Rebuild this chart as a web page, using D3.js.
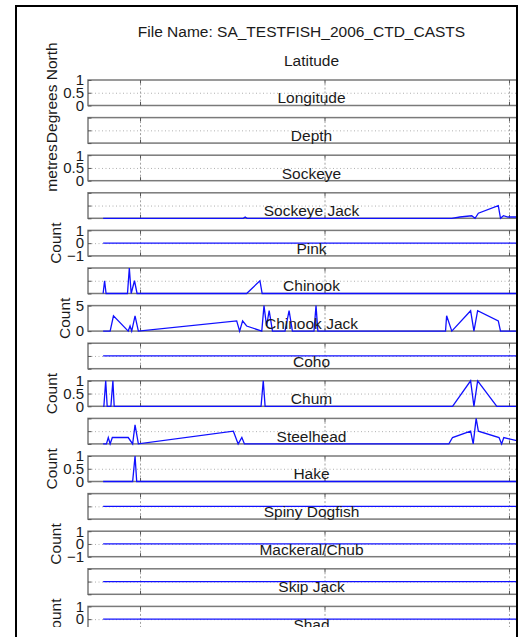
<!DOCTYPE html>
<html>
<head>
<meta charset="utf-8">
<script src="https://cdn.jsdelivr.net/npm/d3@7"></script>
<style>
	body { margin: 0; background: #fff; }
	text { font-family: 'Liberation Sans', Arial, Helvetica, sans-serif; fill: #1a1a1a; }
</style>
</head>
<body>
<div id="chart"></div>
<script>

const fileName = "File Name: SA_TESTFISH_2006_CTD_CASTS";

const panelTitles = ["Latitude", "Longitude", "Depth", "Sockeye", "Sockeye Jack", "Pink", "Chinook",
	"Chinook Jack", "Coho", "Chum", "Steelhead", "Hake", "Spiny Dogfish", "Mackeral/Chub", "Skip Jack", "Shad"];

const yLabels = ["Degrees North", "", "metres", "", "Count", "", "Count", "", "Count", "", "Count", "",
	"Count", "", "Count", ""];

const yDomains = [[0, 1], [0, 1], [0, 1], [0, 20], [-1, 1], [0, 2], [0, 5], [-1, 1], [0, 1], [0, 4],
	[0, 1], [-1, 1], [-1, 1], [-1, 1], [-1, 1], [-1, 1]];

const yTicks = [[0, 0.5, 1], [0, 0.5, 1], [0, 0.5, 1], [0, 10, 20], [-1, 0, 1], [0, 1, 2], [0, 5],
	[-1, 0, 1], [0, 0.5, 1], [0, 2, 4], [0, 0.5, 1], [-1, 0, 1], [-1, 0, 1], [-1, 0, 1], [-1, 0, 1], [-1, 0, 1]];

// only every other panel shows its y tick labels
const showYTickLabels = [true, false, true, false, true, false, true, false, true, false, true, false,
	true, false, true, false];

// x is day of year 2006
const xDomain = [135.9, 257.05];
const xTicks = [150, 200, 250];

// [day, value] per cast
const latitude = [];
const longitude = [];
const depth = [];
const sockeye = [[140, 0], [178.0, 0], [178.5, 1], [179.0, 0], [234.5, 0], [236.7, 1], [239.9, 2], [240.8, 0],
	[241.7, 4], [247.1, 10], [247.7, 0], [248.5, 2], [249.7, 1], [257.05, 1]];
const sockeyeJack = [[140, 0], [257.05, 0]];
const pink = [[140, 0], [140.4, 1], [140.8, 0], [146.6, 0], [147.1, 2], [147.6, 0], [148.5, 1], [149.2, 0],
	[178.9, 0], [182.5, 1], [183.1, 0], [257.05, 0]];
const chinook = [[140, 0], [141.9, 0], [142.8, 3], [146.8, 0], [147.3, 1], [147.75, 0], [148.65, 3], [149.55, 0],
	[176.2, 2], [177.0, 0], [177.8, 2], [178.9, 1], [183.0, 0], [183.6, 5], [184.3, 1], [185.0, 4], [185.9, 0],
	[189.3, 0], [190.4, 4], [191.3, 0], [197.15, 0], [197.7, 5], [198.2, 0], [232.8, 0], [233.1, 3], [234.5, 0],
	[239.6, 4], [240.5, 0], [241.5, 4], [247.1, 2], [247.7, 0], [257.05, 0]];
const chinookJack = [[140, 0], [257.05, 0]];
const coho = [[140, 0], [140.2, 0], [140.7, 1], [141.1, 0], [142.1, 0], [142.65, 1], [143.0, 0], [182.8, 0],
	[183.4, 1], [183.9, 0], [234.7, 0], [239.6, 1], [240.5, 0], [241.5, 1], [246.7, 0], [257.05, 0]];
const chum = [[140, 0], [140.9, 0], [141.4, 1], [141.9, 0], [142.5, 1], [146.8, 1], [148.0, 0], [148.65, 3],
	[149.55, 0], [175.3, 2], [176.6, 0], [177.6, 1], [178.3, 0], [233.7, 0], [234.7, 1], [239.6, 2], [240.3, 0],
	[241.1, 4], [241.7, 2], [247.3, 1], [248.0, 0], [248.6, 1], [252.1, 0.5], [257.05, 0]];
const steelhead = [[140, 0], [148.0, 0], [148.65, 1], [149.1, 0], [257.05, 0]];
const hake = [[140, 0], [257.05, 0]];
const spinyDogfish = [[140, 0], [257.05, 0]];
const mackeralChub = [[140, 0], [257.05, 0]];
const skipJack = [[140, 0], [257.05, 0]];
const shad = [[140, 0], [257.05, 0]];

const series = [latitude, longitude, depth, sockeye, sockeyeJack, pink, chinook, chinookJack, coho, chum,
	steelhead, hake, spinyDogfish, mackeralChub, skipJack, shad];

var width = 525,
	height = 637,
	plotLeft = 88,
	plotRight = 535;

var svg = d3
	.select("#chart")
	.append("svg")
	.attr("width", width)
	.attr("height", height);

// the figure is cut off at the bottom
svg.append("clipPath")
	.attr("id", "fig-clip")
	.append("rect")
	.attr("x", 17)
	.attr("y", 7)
	.attr("width", 500)
	.attr("height", 620);

const fig = svg.append("g").attr("clip-path", "url(#fig-clip)");

const x = d3.scaleLinear().domain(xDomain).range([plotLeft, plotRight]);

const panelY = d3.scaleBand()
	.domain(panelTitles)
	.range([80, 669.5])
	.paddingInner(0.322);

const bw = panelY.bandwidth();

fig.append("text")
	.attr("x", 301.5)
	.attr("y", 37.3)
	.attr("text-anchor", "middle")
	.attr("font-size", "15.5px")
	.text(fileName);

const fmt = (t) => (t < 0 ? "\u2212" + (-t) : String(t));

const line = d3.line();

panelTitles.forEach((title, i) => {
	const g = fig.append("g").attr("transform", "translate(0," + panelY(title) + ")");
	const y = d3.scaleLinear().domain(yDomains[i]).range([bw, 0]);
	const dom = yDomains[i];

	// dotted grid
	g.append("g")
		.attr("transform", "translate(" + plotLeft + ",0)")
		.call(d3.axisLeft(y)
			.tickValues(yTicks[i].filter((t) => t !== dom[0] && t !== dom[1]))
			.tickSize(-(plotRight - plotLeft))
			.tickFormat(""))
		.call((a) => a.select(".domain").remove())
		.selectAll("line")
		.attr("stroke", "#b0b0b0")
		.attr("stroke-dasharray", "1,2.5");

	g.append("g")
		.attr("transform", "translate(0," + bw + ")")
		.call(d3.axisBottom(x).tickValues(xTicks).tickSize(-bw).tickFormat(""))
		.call((a) => a.select(".domain").remove())
		.selectAll("line")
		.attr("stroke", "#a0a0a0")
		.attr("stroke-dasharray", "2,2");

	// box
	g.append("rect")
		.attr("x", plotLeft)
		.attr("y", 0)
		.attr("width", plotRight - plotLeft)
		.attr("height", bw)
		.attr("fill", "none")
		.attr("stroke", "#7a7a7a")
		.attr("stroke-width", 1.5);

	// inward ticks
	g.append("g")
		.call(d3.axisTop(x).tickValues(xTicks).tickSize(-3.5).tickFormat(""))
		.call((a) => a.select(".domain").remove())
		.selectAll("line").attr("stroke", "#555");
	g.append("g")
		.attr("transform", "translate(0," + bw + ")")
		.call(d3.axisBottom(x).tickValues(xTicks).tickSize(-3.5).tickFormat(""))
		.call((a) => a.select(".domain").remove())
		.selectAll("line").attr("stroke", "#555");

	const yAxis = g.append("g")
		.attr("class", "yaxis")
		.attr("transform", "translate(" + plotLeft + ",0)")
		.call(d3.axisLeft(y)
			.tickValues(yTicks[i])
			.tickSize(-3.5)
			.tickPadding(4)
			.tickFormat(showYTickLabels[i] ? fmt : ""));
	yAxis.select(".domain").remove();
	yAxis.selectAll("line").attr("stroke", "#555");
	yAxis.selectAll("text")
		.attr("font-size", "15px")
		.attr("font-family", null)
		.attr("fill", "#1a1a1a");
	yAxis.attr("font-family", null).attr("font-size", null);

	if (yLabels[i]) {
		let maxW = 0;
		yAxis.selectAll("text").each(function () {
			maxW = Math.max(maxW, this.getComputedTextLength());
		});
		g.append("text")
			.attr("transform", "translate(" + (plotLeft - 4 - maxW - 6) + "," + bw / 2 + ") rotate(-90)")
			.attr("text-anchor", "middle")
			.attr("font-size", "15.5px")
			.text(yLabels[i]);
	}

	// data
	if (series[i].length) {
		g.append("path")
			.datum(series[i])
			.attr("fill", "none")
			.attr("stroke", "#1010ff")
			.attr("stroke-width", 1.3)
			.attr("stroke-linejoin", "miter")
			.attr("d", line.x((d) => x(d[0])).y((d) => y(d[1])));
	}

	g.append("text")
		.attr("x", (plotLeft + plotRight) / 2)
		.attr("y", -14.3)
		.attr("text-anchor", "middle")
		.attr("font-size", "15.5px")
		.text(title);
});

// black figure frame
svg.append("path")
	.attr("d", "M16,637V6H517V637")
	.attr("fill", "none")
	.attr("stroke", "#000")
	.attr("stroke-width", 2);

</script>
</body>
</html>
